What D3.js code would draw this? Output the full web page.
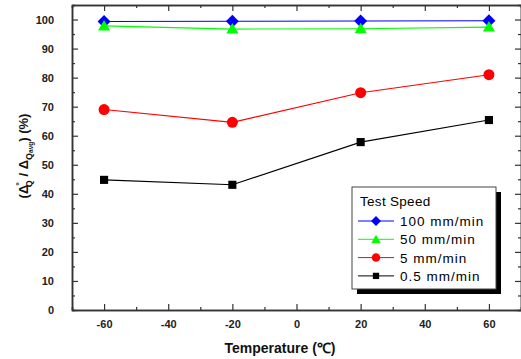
<!DOCTYPE html>
<html>
<head>
<meta charset="utf-8">
<script src="https://cdn.jsdelivr.net/npm/d3@7"></script>
<style>
  body { margin: 0; background: #fff; }
  svg { display: block; font-family: "Liberation Sans", Arial, sans-serif; }
  .tick text { font-weight: bold; font-size: 11px; fill: #222; }
</style>
</head>
<body>
<script>
const w = 521;
const h = 359;
const padding = { top: 5, left: 72, right: 0, bottom: 49 };

const temps = [-60, -20, 20, 60];
const speeds = ['100 mm/min', '50 mm/min', '5 mm/min', '0.5 mm/min'];
const v100 = [99.3, 99.4, 99.5, 99.6];
const v50 = [97.8, 96.7, 96.8, 97.4];
const v5 = [69.0, 64.6, 74.8, 81.0];
const v05 = [44.8, 43.1, 57.8, 65.4];
const xTicks = [-60, -40, -20, 0, 20, 40, 60];
const yTicks = [0, 10, 20, 30, 40, 50, 60, 70, 80, 90, 100];

const series = [
  { name: speeds[0], values: v100, color: '#0000ff', symbol: 'diamond' },
  { name: speeds[1], values: v50, color: '#00ff00', symbol: 'triangle' },
  { name: speeds[2], values: v5, color: '#ff0000', symbol: 'circle' },
  { name: speeds[3], values: v05, color: '#000000', symbol: 'square' }
];

const xScale = d3.scaleLinear().domain([-70, 70]).range([padding.left, w - padding.right]);
const yScale = d3.scaleLinear().domain([0, 105]).range([h - padding.bottom, padding.top]);

const svg = d3.select('body').append('svg')
  .attr('width', w)
  .attr('height', h);

// minor ticks
const xMinor = d3.range(-70, 71, 10).filter(v => v % 20 !== 0);
const yMinor = d3.range(5, 105, 10);

function axisStyle(g) {
  g.select('.domain').attr('stroke', '#333').attr('stroke-width', 1.5);
  g.selectAll('.tick line').attr('stroke', '#333').attr('stroke-width', 1.2);
}

const plain = d => String(d); // hyphen minus, not U+2212

svg.append('g')
  .attr('transform', `translate(0, ${yScale(0)})`)
  .call(d3.axisBottom(xScale).tickValues(xTicks).tickSizeInner(-6).tickSizeOuter(0).tickPadding(10).tickFormat(plain))
  .call(axisStyle);
svg.append('g')
  .attr('transform', `translate(0, ${yScale(0)})`)
  .call(d3.axisBottom(xScale).tickValues(xMinor).tickSize(-3).tickFormat(''))
  .call(axisStyle);

svg.append('g')
  .attr('transform', `translate(0, ${padding.top})`)
  .call(d3.axisTop(xScale).tickValues(xTicks).tickSizeInner(-6).tickSizeOuter(0).tickFormat(''))
  .call(axisStyle);
svg.append('g')
  .attr('transform', `translate(0, ${padding.top})`)
  .call(d3.axisTop(xScale).tickValues(xMinor).tickSize(-3).tickFormat(''))
  .call(axisStyle);

svg.append('g')
  .attr('transform', `translate(${padding.left}, 0)`)
  .call(d3.axisLeft(yScale).tickValues(yTicks).tickSizeInner(-6).tickSizeOuter(0).tickPadding(18).tickFormat(plain))
  .call(axisStyle);
svg.append('g')
  .attr('transform', `translate(${padding.left}, 0)`)
  .call(d3.axisLeft(yScale).tickValues(yMinor).tickSize(-3).tickFormat(''))
  .call(axisStyle);

svg.append('g')
  .attr('transform', `translate(${w - padding.right}, 0)`)
  .call(d3.axisRight(yScale).tickValues(yTicks).tickSizeInner(-6).tickSizeOuter(0).tickFormat(''))
  .call(axisStyle);
svg.append('g')
  .attr('transform', `translate(${w - padding.right}, 0)`)
  .call(d3.axisRight(yScale).tickValues(yMinor).tickSize(-3).tickFormat(''))
  .call(axisStyle);

const symbols = {
  diamond: { type: d3.symbolSquare, size: 84, rotate: 45 },
  triangle: { type: d3.symbolTriangle, size: 64, rotate: 0 },
  circle: { type: d3.symbolCircle, size: 95, rotate: 0 },
  square: { type: d3.symbolSquare, size: 66, rotate: 0 }
};

const line = d3.line()
  .x((d, i) => xScale(temps[i]))
  .y(d => yScale(d));

series.forEach(s => {
  svg.append('path')
    .datum(s.values)
    .attr('fill', 'none')
    .attr('stroke', s.color)
    .attr('stroke-width', 1.1)
    .attr('d', line);
});

series.forEach(s => {
  const sym = symbols[s.symbol];
  svg.append('g').selectAll('path')
    .data(s.values)
    .enter()
    .append('path')
    .attr('d', d3.symbol().type(sym.type).size(sym.size))
    .attr('fill', s.color)
    .attr('transform', (d, i) => `translate(${xScale(temps[i])}, ${yScale(d) + (s.symbol === 'triangle' ? 1 : 0)}) rotate(${sym.rotate})`);
});

// legend
const legend = svg.append('g').attr('transform', 'translate(352, 187)');
legend.append('rect')
  .attr('x', 5).attr('y', 5).attr('width', 144).attr('height', 102)
  .attr('fill', '#000');
legend.append('rect')
  .attr('width', 144).attr('height', 102)
  .attr('fill', '#fff').attr('stroke', '#444').attr('stroke-width', 1);
legend.append('text')
  .attr('x', 8).attr('y', 19)
  .attr('font-size', 13.5)
  .attr('letter-spacing', 0.3)
  .text('Test Speed');

const items = legend.selectAll('.item')
  .data(series)
  .enter()
  .append('g')
  .attr('class', 'item')
  .attr('transform', (d, i) => `translate(0, ${34 + i * 18.3})`);
items.append('line')
  .attr('x1', 6).attr('x2', 42)
  .attr('stroke', d => d.color)
  .attr('stroke-width', 1);
items.append('path')
  .attr('d', d => d3.symbol().type(symbols[d.symbol].type).size(symbols[d.symbol].size * 0.6)())
  .attr('fill', d => d.color)
  .attr('transform', d => `translate(24, ${d.symbol === 'triangle' ? 1 : 0}) rotate(${symbols[d.symbol].rotate})`);
items.append('text')
  .attr('x', 48).attr('y', 5)
  .attr('font-size', 13.5)
  .attr('letter-spacing', 1)
  .text(d => d.name);

// axis titles
svg.append('text')
  .attr('x', 280)
  .attr('y', 353)
  .attr('text-anchor', 'middle')
  .attr('font-weight', 'bold')
  .attr('font-size', 14)
  .attr('fill', '#111')
  .text('Temperature (℃)');

const yt = svg.append('text')
  .attr('transform', 'translate(28, 156) rotate(-90)')
  .attr('text-anchor', 'middle')
  .attr('font-weight', 'bold')
  .attr('font-size', 13)
  .attr('fill', '#111');
yt.append('tspan').text('(Δ');
yt.append('tspan').attr('font-size', 9).attr('dy', -6).attr('dx', -1).text('°');
yt.append('tspan').attr('font-size', 9).attr('dy', 10).attr('dx', -5).text('Q');
yt.append('tspan').attr('dy', -4).text(' / Δ');
yt.append('tspan').attr('font-size', 9).attr('dy', 4).text('Q');
yt.append('tspan').attr('font-size', 6.5).attr('dy', 1).text('avg');
yt.append('tspan').attr('dy', -5).text(')  (%)');
</script>
</body>
</html>
